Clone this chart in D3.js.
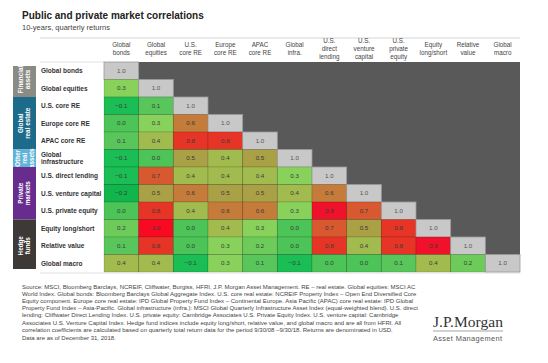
<!DOCTYPE html>
<html lang="en">
<head>
<meta charset="utf-8">
<script src="https://d3js.org/d3.v7.min.js"></script>
<style>
  body { margin: 0; background: #fff; }
  svg text { font-family: "Liberation Sans", Arial, sans-serif; }
  svg text.serif { font-family: "Liberation Serif", "Times New Roman", serif; }
</style>
</head>
<body>
<svg id="chart" width="548" height="363"></svg>
<script>
// column headings (multi-line)
const colLabels = [
  ["Global", "bonds"], ["Global", "equities"], ["U.S.", "core RE"], ["Europe", "core RE"],
  ["APAC", "core RE"], ["Global", "infra."], ["U.S.", "direct", "lending"], ["U.S.", "venture", "capital"],
  ["U.S.", "private", "equity"], ["Equity", "long/short"], ["Relative", "value"], ["Global", "macro"]
];
const rowLabels = [
  ["Global bonds"], ["Global equities"], ["U.S. core RE"], ["Europe core RE"], ["APAC core RE"],
  ["Global", "infrastructure"], ["U.S. direct lending"], ["U.S. venture capital"], ["U.S. private equity"],
  ["Equity long/short"], ["Relative value"], ["Global macro"]
];
// lower triangle of the correlation matrix, row by row
const values = [
  [1.0],
  [0.3, 1.0],
  [-0.1, 0.1, 1.0],
  [0.0, 0.3, 0.6, 1.0],
  [0.1, 0.4, 0.8, 0.8, 1.0],
  [-0.1, 0.0, 0.5, 0.4, 0.5, 1.0],
  [-0.1, 0.7, 0.4, 0.4, 0.4, 0.3, 1.0],
  [-0.2, 0.5, 0.6, 0.5, 0.5, 0.4, 0.6, 1.0],
  [0.0, 0.8, 0.4, 0.6, 0.6, 0.3, 0.9, 0.7, 1.0],
  [0.2, 1.0, 0.0, 0.4, 0.3, 0.0, 0.7, 0.5, 0.8, 1.0],
  [0.1, 0.8, 0.0, 0.3, 0.2, 0.0, 0.8, 0.4, 0.8, 0.9, 1.0],
  [0.4, 0.4, -0.1, 0.3, 0.1, -0.1, 0.0, 0.0, 0.1, 0.4, 0.2, 1.0]
];
const groups = [
  { name: ["Financial", "assets"], from: 0, to: 1, color: "#8b8b86" },
  { name: ["Global", "real estate"], from: 2, to: 4, color: "#1d6b8b" },
  { name: ["Other", "real", "assets"], from: 5, to: 5, color: "#5fb3d8" },
  { name: ["Private", "markets"], from: 6, to: 8, color: "#682c8f" },
  { name: ["Hedge", "funds"], from: 9, to: 11, color: "#3d3936" }
];
const footnote = [
  "Source: MSCI, Bloomberg Barclays, NCREIF, Cliffwater, Burgiss, HFRI, J.P. Morgan Asset Management. RE – real estate. Global equities: MSCI AC",
  "World Index. Global bonds: Bloomberg Barclays Global Aggregate Index. U.S. core real estate: NCREIF Property Index – Open End Diversified Core",
  "Equity component. Europe core real estate: IPD Global Property Fund Index – Continental Europe. Asia Pacific (APAC) core real estate: IPD Global",
  "Property Fund Index – Asia-Pacific. Global infrastructure (infra.): MSCI Global Quarterly Infrastructure Asset Index (equal-weighted blend). U.S. direct",
  "lending: Cliffwater Direct Lending Index. U.S. private equity: Cambridge Associates U.S. Private Equity Index. U.S. venture capital: Cambridge",
  "Associates U.S. Venture Capital Index. Hedge fund indices include equity long/short, relative value, and global macro and are all from HFRI. All",
  "correlation coefficients are calculated based on quarterly total return data for the period 9/30/08 –9/30/18. Returns are denominated in USD."
];

const svg = d3.select("#chart");
const idx = d3.range(12);

const x = d3.scaleBand().domain(idx).range([104, 520]);
const y = d3.scaleBand().domain(idx).range([62, 272]);

const color = d3.scaleLinear()
  .domain([-0.2, -0.1, 0.0, 0.1, 0.2, 0.3, 0.4, 0.5, 0.6, 0.7, 0.8, 0.9, 1.0])
  .range(["#10b64c", "#1bbd55", "#4cc457", "#58c65a", "#6dcb5a", "#88d25c", "#a2bb4e", "#aaa045",
          "#c57b3a", "#d8592f", "#e63427", "#f0122a", "#f80a22"]);

// titles
svg.append("text").attr("x", 22).attr("y", 19)
  .attr("font-size", 10).attr("font-weight", "bold").attr("fill", "#222")
  .text("Public and private market correlations");
svg.append("text").attr("x", 22).attr("y", 30)
  .attr("font-size", 7.5).attr("fill", "#444")
  .text("10-years, quarterly returns");

// header rule
svg.append("line").attr("x1", 40).attr("x2", 520).attr("y1", 38).attr("y2", 38)
  .attr("stroke", "#d4d4d4").attr("stroke-width", 1);

// column headings
svg.append("g").selectAll("text")
  .data(colLabels)
  .join("text")
  .attr("text-anchor", "middle")
  .attr("font-size", 6.3)
  .attr("fill", "#444")
  .each(function(d, i) {
    const t = d3.select(this);
    const top = 51 - (d.length - 1) * 3.8;
    d.forEach((line, k) => {
      t.append("tspan").attr("x", x(i) + x.bandwidth() / 2).attr("y", top + k * 7.6).text(line);
    });
  });

// dark upper-triangle backdrop
svg.append("rect").attr("x", 104).attr("y", 62).attr("width", 416).attr("height", 210)
  .attr("fill", "#595959");

// row label area rules
svg.append("line").attr("x1", 40).attr("x2", 104).attr("y1", 62).attr("y2", 62)
  .attr("stroke", "#e2e2e2");
svg.append("line").attr("x1", 40).attr("x2", 520).attr("y1", 273).attr("y2", 273)
  .attr("stroke", "#e0e0e0");

// cells
const cells = [];
values.forEach((row, r) => row.forEach((v, c) => cells.push({ r, c, v })));

const cell = svg.append("g").selectAll("g")
  .data(cells)
  .join("g")
  .attr("transform", d => `translate(${x(d.c)},${y(d.r)})`);

cell.append("rect")
  .attr("width", x.bandwidth())
  .attr("height", y.bandwidth())
  .attr("fill", d => d.r === d.c ? "#c8c8c8" : color(d.v))
  .attr("stroke", d => d.r === d.c ? "#9a9a9a" : "rgba(0,0,0,0.16)")
  .attr("stroke-width", 0.8);

cell.append("text")
  .attr("x", x.bandwidth() / 2)
  .attr("y", y.bandwidth() / 2 + 2.2)
  .attr("text-anchor", "middle")
  .attr("font-size", 6.2)
  .attr("fill", d => d.r === d.c ? "#555" : "#3a3a3a")
  .text(d => d3.format(".1f")(d.v));

// row labels
svg.append("g").selectAll("text")
  .data(rowLabels)
  .join("text")
  .attr("font-size", 6.5)
  .attr("font-weight", "bold")
  .attr("fill", "#333")
  .each(function(d, i) {
    const t = d3.select(this);
    const mid = y(i) + y.bandwidth() / 2 + 2.3;
    const top = mid - (d.length - 1) * 3.6;
    d.forEach((line, k) => {
      t.append("tspan").attr("x", 41).attr("y", top + k * 7.2).text(line);
    });
  });

// group bands
const band = svg.append("g").selectAll("g")
  .data(groups)
  .join("g");

band.append("rect")
  .attr("x", 13)
  .attr("y", d => y(d.from) + (d.from === 0 ? 4 : 0))
  .attr("width", 23)
  .attr("height", d => y(d.to) + y.bandwidth() - y(d.from) - (d.from === 0 ? 4 : 0) - (d.to === 11 ? 3 : 0))
  .attr("fill", d => d.color);

band.append("text")
  .attr("transform", d => {
    const cy = (y(d.from) + y(d.to) + y.bandwidth()) / 2;
    return `translate(24.5,${cy}) rotate(-90)`;
  })
  .attr("text-anchor", "middle")
  .attr("font-size", 6.3)
  .attr("font-weight", "bold")
  .attr("fill", "#fff")
  .each(function(d) {
    const t = d3.select(this);
    const top = 2.2 - (d.name.length - 1) * 3.6;
    d.name.forEach((line, k) => {
      t.append("tspan").attr("x", 0).attr("y", top + k * 7.2).text(line);
    });
  });

// footnote
svg.append("g").selectAll("text")
  .data(footnote)
  .join("text")
  .attr("x", 22)
  .attr("y", (d, i) => 289 + i * 7.1)
  .attr("font-size", 6.0)
  .attr("fill", "#444")
  .text(d => d);
svg.append("text").attr("x", 22).attr("y", 340)
  .attr("font-size", 6.0).attr("fill", "#444")
  .text("Data are as of December 31, 2018.");

// logo
svg.append("text").attr("class", "serif").attr("x", 433).attr("y", 327)
  .attr("font-size", 15.5)
  .attr("fill", "#333").attr("textLength", 70)
  .text("J.P.Morgan");
svg.append("line").attr("x1", 433).attr("x2", 503).attr("y1", 331).attr("y2", 331)
  .attr("stroke", "#666").attr("stroke-width", 0.6);
svg.append("text").attr("x", 433).attr("y", 341)
  .attr("font-size", 7.4).attr("fill", "#555").attr("textLength", 69)
  .text("Asset Management");
</script>
</body>
</html>
